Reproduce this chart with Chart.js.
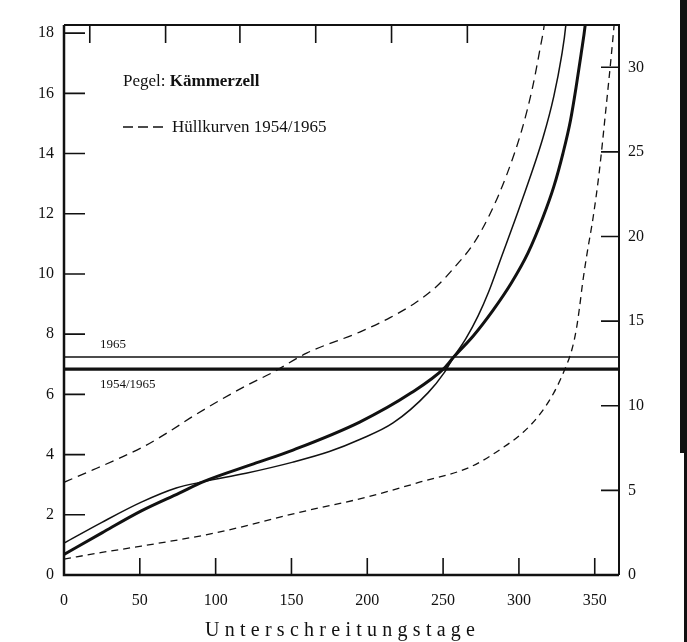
<!DOCTYPE html>
<html>
<head>
<meta charset="utf-8">
<script src="https://cdn.jsdelivr.net/npm/chart.js@4.4.1/dist/chart.umd.min.js"></script>
<style>
  html, body { margin: 0; padding: 0; background: #fff; }
  #wrap { position: relative; width: 687px; height: 642px; overflow: hidden; }
  .edge1 { position: absolute; left: 680px; top: 0; width: 7px; height: 453px; background: #111; }
  .edge2 { position: absolute; left: 684px; top: 453px; width: 3px; height: 189px; background: #111; }
</style>
</head>
<body>
<div id="wrap">
  <canvas id="chart" width="687" height="642"></canvas>
  <div class="edge1"></div><div class="edge2"></div>
</div>
<script>
// Dauerlinien Pegel Kämmerzell: [Unterschreitungstage, Wasserstand]
const curve1954_1965 = [[0,0.68],[25,1.4],[51,2.13],[76,2.72],[92,3.1],[125,3.69],[151,4.15],[195,5.08],[229,6.05],[251,6.88],[257,7.24],[270,7.95],[283,8.8],[295,9.7],[306,10.7],[316,11.9],[323,12.9],[329,14.0],[334,15.1],[338,16.3],[341,17.3],[344,18.4],[345,19]];
const curve1965 = [[0,1.06],[25,1.75],[51,2.42],[74,2.89],[92,3.1],[120,3.38],[151,3.75],[175,4.1],[195,4.5],[217,5.05],[240,6.05],[251,6.74],[257,7.24],[265,7.85],[273,8.6],[280,9.4],[288,10.5],[301,12.3],[316,14.55],[323,15.9],[328,17.2],[331,18.3],[332,19]];
const envelopeUpper = [[0,3.08],[19,3.49],[37,3.89],[52,4.25],[68,4.72],[85,5.27],[103,5.81],[121,6.31],[138,6.74],[160,7.37],[195,8.07],[215,8.55],[232,9.05],[246,9.6],[258,10.25],[270,11.0],[281,12.0],[292,13.3],[302,14.8],[309,16.2],[314,17.5],[317,18.4],[318,19]];
const envelopeLower = [[0,0.53],[25,0.75],[51,0.96],[100,1.4],[156,2.09],[200,2.59],[235,3.09],[268,3.59],[290,4.25],[303,4.75],[314,5.35],[323,6.05],[330,6.8],[335,7.5],[338,8.2],[340,8.9],[342,9.7],[345,10.7],[349,11.9],[353,13.4],[357,15.3],[361,17.3],[363,18.4],[364,19]];
const level1965 = 7.24;
const level1954_1965 = 6.84;

const xTicks = [0, 50, 100, 150, 200, 250, 300, 350];
const xTopTicks = [17, 67, 116, 166, 216, 266];
const yLeftTicks = [0, 2, 4, 6, 8, 10, 12, 14, 16, 18];
const yRightTicks = [0, 5, 10, 15, 20, 25, 30];
const xMax = 366, yLeftMax = 18.27, yRightMax = 32.5;

const ink = '#111';
const serif = "'Liberation Serif', 'DejaVu Serif', serif";
const toPts = arr => arr.map(([x, y]) => ({ x, y }));

const frame = {
  id: 'frame',
  afterDraw(chart) {
    const { ctx, chartArea: a, scales } = chart;
    ctx.save();
    ctx.strokeStyle = ink;
    // frame
    ctx.lineWidth = 2.5;
    ctx.beginPath();
    ctx.moveTo(a.left, a.top); ctx.lineTo(a.left, a.bottom); ctx.lineTo(a.right, a.bottom);
    ctx.stroke();
    ctx.lineWidth = 2;
    ctx.beginPath();
    ctx.moveTo(a.left, a.top); ctx.lineTo(a.right, a.top); ctx.lineTo(a.right, a.bottom);
    ctx.stroke();
    // inward ticks
    ctx.lineWidth = 1.6;
    ctx.beginPath();
    yLeftTicks.forEach(v => { const y = scales.y.getPixelForValue(v); ctx.moveTo(a.left, y); ctx.lineTo(a.left + 21, y); });
    yRightTicks.forEach(v => { const y = scales.y2.getPixelForValue(v); ctx.moveTo(a.right, y); ctx.lineTo(a.right - 18, y); });
    xTicks.forEach(v => { if (v > 0) { const x = scales.x.getPixelForValue(v); ctx.moveTo(x, a.bottom); ctx.lineTo(x, a.bottom - 17); } });
    xTopTicks.forEach(v => { const x = scales.x.getPixelForValue(v); ctx.moveTo(x, a.top); ctx.lineTo(x, a.top + 18); });
    ctx.stroke();

    // legend
    ctx.fillStyle = ink;
    ctx.textBaseline = 'alphabetic';
    ctx.font = `17px ${serif}`;
    ctx.fillText('Pegel: ', 123, 86);
    const pw = ctx.measureText('Pegel: ').width;
    ctx.font = `bold 17px ${serif}`;
    ctx.fillText('Kämmerzell', 123 + pw, 86);
    ctx.lineWidth = 1.4;
    ctx.setLineDash([10, 5]);
    ctx.beginPath(); ctx.moveTo(123, 127); ctx.lineTo(166, 127); ctx.stroke();
    ctx.setLineDash([]);
    ctx.font = `17px ${serif}`;
    ctx.fillText('Hüllkurven 1954/1965', 172, 132);

    // labels of the horizontal lines
    ctx.font = `13px ${serif}`;
    ctx.fillText('1965', 100, 348);
    ctx.fillText('1954/1965', 100, 388);

    // axis title
    ctx.font = `20px ${serif}`;
    const txt = 'Unterschreitungstage';
    ctx.letterSpacing = '0px';
    const w = ctx.measureText(txt).width;
    const sp = (270 - w) / (txt.length - 1);
    ctx.letterSpacing = sp + 'px';
    ctx.textAlign = 'left';
    ctx.fillText(txt, 205, 636);
    ctx.restore();
  }
};

const line = (data, width, dash) => ({
  data: toPts(data), borderColor: ink, borderWidth: width, borderDash: dash || [],
  pointRadius: 0, cubicInterpolationMode: 'monotone', fill: false, yAxisID: 'y'
});

new Chart(document.getElementById('chart'), {
  type: 'line',
  data: {
    datasets: [
      line(envelopeUpper, 1.3, [9, 6]),
      line(envelopeLower, 1.3, [7, 5]),
      line(curve1965, 1.5),
      line(curve1954_1965, 3),
      line([[0, level1965], [xMax, level1965]], 1.6),
      line([[0, level1954_1965], [xMax, level1954_1965]], 3.2)
    ]
  },
  options: {
    responsive: false,
    animation: false,
    layout: { padding: { top: 25, left: 0, right: 0, bottom: 0 } },
    plugins: { legend: { display: false }, tooltip: { enabled: false } },
    scales: {
      x: {
        type: 'linear', min: 0, max: xMax, position: 'bottom',
        grid: { display: false, drawTicks: false }, border: { display: false },
        afterBuildTicks: s => { s.ticks = xTicks.map(v => ({ value: v })); },
        afterFit: s => { s.height = 67; },
        ticks: { padding: 16, color: ink, font: { family: serif, size: 16 }, maxRotation: 0 }
      },
      y: {
        type: 'linear', min: 0, max: yLeftMax, position: 'left',
        grid: { display: false, drawTicks: false }, border: { display: false },
        afterBuildTicks: s => { s.ticks = yLeftTicks.map(v => ({ value: v })); },
        afterFit: s => { s.width = 64; },
        ticks: { padding: 10, color: ink, font: { family: serif, size: 16 } }
      },
      y2: {
        type: 'linear', min: 0, max: yRightMax, position: 'right',
        grid: { display: false, drawTicks: false }, border: { display: false },
        afterBuildTicks: s => { s.ticks = yRightTicks.map(v => ({ value: v })); },
        afterFit: s => { s.width = 68; },
        ticks: { padding: 9, color: ink, font: { family: serif, size: 16 } }
      }
    }
  },
  plugins: [frame]
});
</script>
</body>
</html>
